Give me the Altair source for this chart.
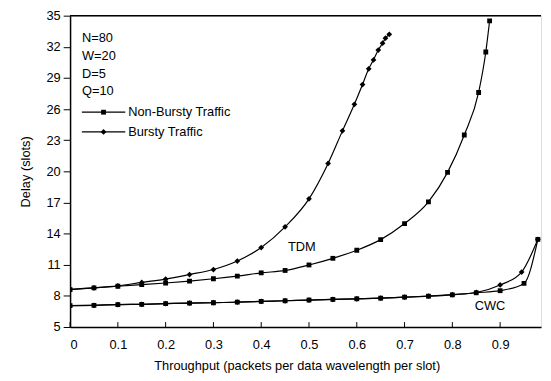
import altair as alt
import pandas as pd

# ---- data ----
x_nb_tdm = [0, 0.05, 0.1, 0.15, 0.2, 0.25, 0.3, 0.35, 0.4, 0.45, 0.5, 0.55, 0.6, 0.65, 0.7, 0.75, 0.79, 0.825, 0.855, 0.87, 0.878]
y_nb_tdm = [8.6, 8.77, 8.93, 9.08, 9.24, 9.43, 9.65, 9.91, 10.22, 10.45, 10.98, 11.62, 12.4, 13.42, 14.97, 17.06, 19.9, 23.5, 27.6, 31.5, 34.5]

x_b_tdm = [0, 0.05, 0.1, 0.15, 0.2, 0.25, 0.3, 0.35, 0.4, 0.45, 0.5, 0.54, 0.57, 0.595, 0.612, 0.625, 0.635, 0.645, 0.654, 0.66, 0.668]
y_b_tdm = [8.64, 8.77, 8.96, 9.3, 9.62, 10.06, 10.54, 11.36, 12.66, 14.65, 17.35, 20.76, 23.9, 26.46, 28.36, 29.88, 30.74, 31.69, 32.35, 32.83, 33.2]

x_nb_cwc = [0, 0.05, 0.1, 0.15, 0.2, 0.25, 0.3, 0.35, 0.4, 0.45, 0.5, 0.55, 0.6, 0.65, 0.7, 0.75, 0.8, 0.85, 0.9, 0.95, 0.979]
y_nb_cwc = [7.06, 7.09, 7.16, 7.19, 7.25, 7.31, 7.34, 7.4, 7.47, 7.53, 7.6, 7.66, 7.72, 7.78, 7.88, 7.97, 8.1, 8.3, 8.5, 9.2, 13.45]

x_b_cwc = [0, 0.05, 0.1, 0.15, 0.2, 0.25, 0.3, 0.35, 0.4, 0.45, 0.5, 0.55, 0.6, 0.65, 0.7, 0.75, 0.8, 0.85, 0.9, 0.945, 0.979]
y_b_cwc = [7.06, 7.09, 7.16, 7.19, 7.25, 7.31, 7.34, 7.4, 7.47, 7.53, 7.6, 7.66, 7.72, 7.78, 7.88, 7.97, 8.12, 8.33, 9.05, 10.3, 13.45]

traffic_names = ["Non-Bursty Traffic", "Bursty Traffic"]
x_ticks = [0, 0.1, 0.2, 0.3, 0.4, 0.5, 0.6, 0.7, 0.8, 0.9]
y_ticks = [5, 8, 11, 14, 17, 20, 23, 26, 29, 32, 35]
X_MAX = 0.9856

# annotations (data coordinates)
param_text = ["N=80", "W=20", "D=5", "Q=10"]
param_x = [0.025, 0.025, 0.025, 0.025]
param_y = [32.87, 31.12, 29.41, 27.70]

label_text = ["TDM", "CWC"]
label_x = [0.456, 0.847]
label_y = [12.69, 6.99]

legend_y = [25.7, 23.8]
legend_x1 = 0.0247
legend_x2 = 0.1155
legend_xm = 0.070
legend_xt = 0.1216

# ---- tables ----
rows = []
for name, traffic, xs, ys in [
    ("nb_tdm", traffic_names[0], x_nb_tdm, y_nb_tdm),
    ("b_tdm", traffic_names[1], x_b_tdm, y_b_tdm),
    ("nb_cwc", traffic_names[0], x_nb_cwc, y_nb_cwc),
    ("b_cwc", traffic_names[1], x_b_cwc, y_b_cwc),
]:
    for i, (xv, yv) in enumerate(zip(xs, ys)):
        rows.append({"series": name, "traffic": traffic, "x": xv, "y": yv, "order": i})
df = pd.DataFrame(rows)

df_param = pd.DataFrame({"text": param_text, "x": param_x, "y": param_y})
df_label = pd.DataFrame({"text": label_text, "x": label_x, "y": label_y})
df_leg = pd.DataFrame({
    "traffic": traffic_names,
    "x": [legend_x1] * 2,
    "x2": [legend_x2] * 2,
    "xm": [legend_xm] * 2,
    "xt": [legend_xt] * 2,
    "y": legend_y,
})
df_xt = pd.DataFrame({"x": x_ticks})
df_top = pd.DataFrame({"y": [35]})

FONT = "Liberation Sans"
xscale = alt.Scale(domain=[0, X_MAX], nice=False, zero=False)
yscale = alt.Scale(domain=[5, 35], nice=False, zero=False)
shape_scale = alt.Scale(domain=traffic_names, range=["square", "diamond"])
size_scale = alt.Scale(domain=traffic_names, range=[24, 34])

X_TITLE = "Throughput (packets per data wavelength per slot)"
Y_TITLE = "Delay (slots)"

x_axis = alt.Axis(
    values=x_ticks, ticks=False, grid=False, labelPadding=12,
    labelExpr="datum.value == 0 ? '0' : format(datum.value, '.1f')",
    labelFontSize=13, labelColor="black", domainColor="black", domainWidth=1.5,
    titleFontSize=13, titleFontWeight="normal", titleColor="black", titlePadding=8,
    titleX=230, labelFont=FONT, titleFont=FONT,
)
y_axis = alt.Axis(
    values=y_ticks, tickSize=7, tickColor="black", grid=False, labelPadding=3,
    labelFontSize=13, labelColor="black", domainColor="black", domainWidth=1.5,
    titleFontSize=13, titleFontWeight="normal",
    titleColor="black", titlePadding=14, labelFont=FONT, titleFont=FONT,
)


def X(field):
    return alt.X(field, scale=xscale, axis=x_axis, title=X_TITLE)


def Y(field):
    return alt.Y(field, scale=yscale, axis=y_axis, title=Y_TITLE)


lines = alt.Chart(df).mark_line(color="black", strokeWidth=1.2, interpolate="monotone", clip=True).encode(
    x=X("x:Q"),
    y=Y("y:Q"),
    detail="series:N",
    order="order:Q",
)

points = alt.Chart(df).mark_point(filled=True, color="black", opacity=1, clip=True).encode(
    x=X("x:Q"),
    y=Y("y:Q"),
    shape=alt.Shape("traffic:N", scale=shape_scale, legend=None),
    size=alt.Size("traffic:N", scale=size_scale, legend=None),
)

top_border = alt.Chart(df_top).mark_rule(color="black", strokeWidth=1.5).encode(
    y=Y("y:Q"),
)

xticks = alt.Chart(df_xt).mark_rule(color="black", strokeWidth=1).encode(
    x=X("x:Q"),
    y=alt.value(316),
    y2=alt.value(311),
)

params = alt.Chart(df_param).mark_text(align="left", baseline="middle", fontSize=13, font=FONT, color="black").encode(
    x=X("x:Q"),
    y=Y("y:Q"),
    text="text:N",
)

labels = alt.Chart(df_label).mark_text(align="left", baseline="middle", fontSize=13, font=FONT, color="black").encode(
    x=X("x:Q"),
    y=Y("y:Q"),
    text="text:N",
)

leg_lines = alt.Chart(df_leg).mark_rule(color="black", strokeWidth=1.2).encode(
    x=X("x:Q"),
    x2="x2:Q",
    y=Y("y:Q"),
)
leg_pts = alt.Chart(df_leg).mark_point(filled=True, color="black", opacity=1).encode(
    x=X("xm:Q"),
    y=Y("y:Q"),
    shape=alt.Shape("traffic:N", scale=shape_scale, legend=None),
    size=alt.Size("traffic:N", scale=size_scale, legend=None),
)
leg_text = alt.Chart(df_leg).mark_text(align="left", baseline="middle", fontSize=13, font=FONT, color="black").encode(
    x=X("xt:Q"),
    y=Y("y:Q"),
    text="traffic:N",
)

chart = alt.layer(
    lines, points, top_border, xticks, params, labels, leg_lines, leg_pts, leg_text
).properties(
    width=478,
    height=316,
    autosize=alt.AutoSizeParams(type="none"),
    padding={"left": 63, "top": 5, "right": 2, "bottom": 52},
    background="white",
).configure_view(stroke=None).configure(font=FONT)

chart.save("out.html", embed_options={"renderer": "svg", "actions": False})
